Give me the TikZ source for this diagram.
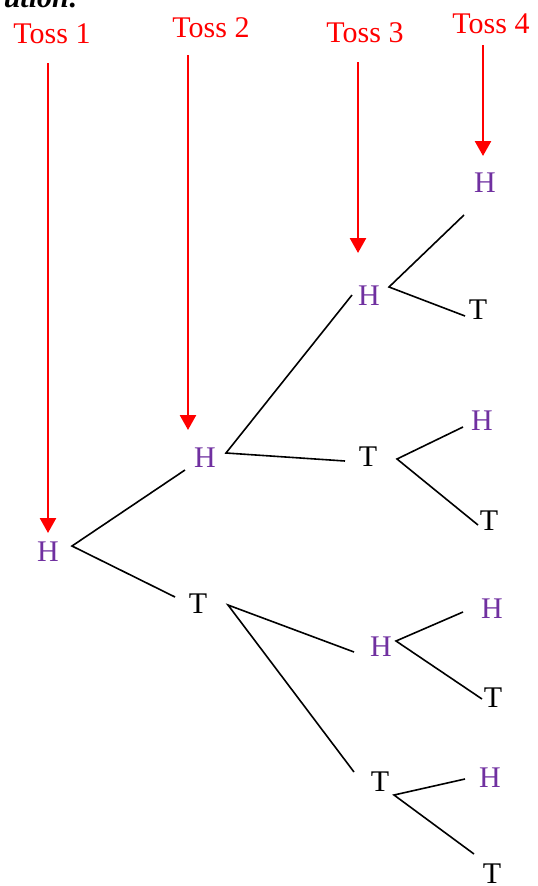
\documentclass[tikz,border=0pt]{standalone}
\usepackage{fontspec}
\setmainfont{Liberation Serif}
\usetikzlibrary{arrows.meta}
\definecolor{tosspurple}{RGB}{112,48,160}
\definecolor{tossred}{RGB}{255,0,0}
\begin{document}
\begin{tikzpicture}[x=1pt,y=-1pt,
  lbl/.style={inner sep=0pt,font=\fontsize{30}{30}\selectfont},
  hnode/.style={lbl,text=tosspurple},
  tnode/.style={lbl,text=black},
  tosslbl/.style={lbl,text=tossred,anchor=base},
  arr/.style={draw=tossred,line width=2.6pt,-{Triangle[width=16pt,length=15pt]}},
  branch/.style={draw=black,line width=1.6pt}]
\useasboundingbox (0,0) rectangle (538,886);
% cut-off heading
\node[lbl,anchor=base east,font=\fontsize{30}{30}\selectfont\bfseries\itshape] (head) at (79,8) {ution:};
% toss labels
\node[tosslbl] (toss1) at (52,43) {Toss 1};
\node[tosslbl] (toss2) at (211,37) {Toss 2};
\node[tosslbl] (toss3) at (365,42) {Toss 3};
\node[tosslbl] (toss4) at (491,33) {Toss 4};
% tree nodes
\node[hnode] (h1) at (48,552) {H};
\node[hnode] (h2) at (205,458) {H};
\node[tnode] (t2) at (198,604) {T};
\node[hnode] (h3a) at (369,296) {H};
\node[tnode] (t3a) at (368,457) {T};
\node[hnode] (h3b) at (381,647) {H};
\node[tnode] (t3b) at (380,782) {T};
\node[hnode] (h4a) at (485,183) {H};
\node[tnode] (t4a) at (478,310) {T};
\node[hnode] (h4b) at (482,421) {H};
\node[tnode] (t4b) at (489,521) {T};
\node[hnode] (h4c) at (492,609) {H};
\node[tnode] (t4c) at (493,698) {T};
\node[hnode] (h4d) at (490,778) {H};
\node[tnode] (t4d) at (492,874) {T};
% arrow ends
\coordinate (a1s) at (48,63);   \coordinate (a1e) at (48,533);
\coordinate (a2s) at (188,55);  \coordinate (a2e) at (188,430);
\coordinate (a3s) at (358,62);  \coordinate (a3e) at (358,253);
\coordinate (a4s) at (483,45);  \coordinate (a4e) at (483,156);
\draw[arr] (a1s) -- (a1e);
\draw[arr] (a2s) -- (a2e);
\draw[arr] (a3s) -- (a3e);
\draw[arr] (a4s) -- (a4e);
% branch ends
\coordinate (h1o) at (72,546);
\coordinate (h2i) at (185,470);
\coordinate (t2i) at (175,597);
\coordinate (h2o) at (226,453);
\coordinate (h3ai) at (352,295);
\coordinate (t3ai) at (345,461);
\coordinate (t2o) at (228,605);
\coordinate (h3bi) at (354,652);
\coordinate (t3bi) at (354,772);
\coordinate (h3ao) at (389,287);
\coordinate (h4ai) at (464,215);
\coordinate (t4ai) at (465,316);
\coordinate (t3ao) at (397,459);
\coordinate (h4bi) at (463,427);
\coordinate (t4bi) at (478,525);
\coordinate (h3bo) at (396,641);
\coordinate (h4ci) at (463,612);
\coordinate (t4ci) at (482,699);
\coordinate (t3bo) at (394,795);
\coordinate (h4di) at (465,779);
\coordinate (t4di) at (474,854);
\draw[branch] (h2i) -- (h1o) -- (t2i);
\draw[branch] (h3ai) -- (h2o) -- (t3ai);
\draw[branch] (h3bi) -- (t2o) -- (t3bi);
\draw[branch] (h4ai) -- (h3ao) -- (t4ai);
\draw[branch] (h4bi) -- (t3ao) -- (t4bi);
\draw[branch] (h4ci) -- (h3bo) -- (t4ci);
\draw[branch] (h4di) -- (t3bo) -- (t4di);
\end{tikzpicture}
\end{document}
